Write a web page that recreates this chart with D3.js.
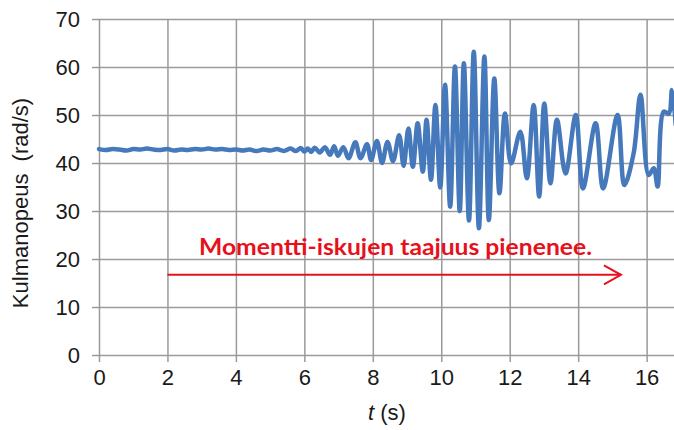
<!DOCTYPE html>
<html>
<head>
<meta charset="utf-8">
<script src="https://cdn.jsdelivr.net/npm/d3@7"></script>
<style>
  html, body { margin: 0; padding: 0; background: #fff; }
  svg { display: block; }
</style>
</head>
<body>
<svg id="chart" width="674" height="430"></svg>
<script>
// Angular velocity of the shaft over time
const timeS = [
  0, 0.2, 0.4, 0.6, 0.8, 1.0, 1.2, 1.4, 1.6, 1.8, 2.0, 2.2, 2.4, 2.6, 2.8, 3.0,
  3.2, 3.4, 3.6, 3.8, 4.0, 4.2, 4.4, 4.6, 4.8, 5.0, 5.2, 5.4, 5.6, 5.75, 5.9, 6.0,
  6.1, 6.2, 6.3, 6.45, 6.6,
  6.75, 6.87, 6.98, 7.14, 7.29, 7.49, 7.64, 7.83, 7.95, 8.12, 8.27, 8.43, 8.59,
  8.77, 8.90, 9.04, 9.17, 9.31, 9.46, 9.57, 9.70, 9.83, 9.97, 10.11, 10.26, 10.40,
  10.54, 10.66, 10.81, 10.95, 11.10, 11.26, 11.39, 11.55, 11.70, 11.86, 12.04,
  12.31, 12.50, 12.70, 12.86, 13.01, 13.19, 13.38, 13.63, 13.93, 14.14, 14.51,
  14.73, 15.15, 15.35, 15.62, 15.82, 16.06, 16.21, 16.32, 16.50, 16.65, 16.74, 16.85
];
const omega = [
  42.9, 42.7, 42.9, 42.8, 42.6, 42.9, 42.8, 43.0, 42.8, 42.7, 42.9, 42.6, 42.8, 42.7, 42.9, 42.8,
  43.0, 42.8, 42.9, 42.7, 42.8, 42.6, 42.8, 42.5, 42.8, 42.6, 42.9, 42.5, 43.0, 42.5, 43.1, 42.4,
  43.0, 42.3, 43.2, 42.2, 43.3,
  41.7, 43.5, 41.5, 43.3, 41.0, 44.3, 41.0, 43.9, 40.6, 44.6, 40.0, 44.4, 40.4,
  45.8, 39.4, 47.2, 39.2, 48.3, 38.2, 49.0, 36.5, 52.1, 34.9, 56.3, 30.9, 60.1,
  30.0, 60.8, 28.0, 63.2, 26.4, 62.2, 28.1, 57.6, 33.7, 50.3, 39.9,
  46.5, 36.8, 52.1, 33.0, 52.4, 35.8, 49.0, 37.8, 50.0, 34.7, 48.3,
  34.7, 50.0, 35.4, 42.0, 54.2, 37.5, 38.9, 35.1, 50.7, 50.3, 55.2, 48.0
];
const xTicks = [0, 2, 4, 6, 8, 10, 12, 14, 16];
const yTicks = [0, 10, 20, 30, 40, 50, 60, 70];
const noteText = "Momentti-iskujen taajuus pienenee.";
const arrowFrom = [2, 16.7];
const arrowTo = [15.25, 16.7];

const svg = d3.select("#chart");
const plotL = 99, plotR = 674, plotT = 19, plotB = 355;
const x = d3.scaleLinear().domain([0, 16.8]).range([plotL, plotR]);
const y = d3.scaleLinear().domain([0, 70]).range([plotB, plotT]);

const gridColor = "#9a9a9a";
const textColor = "#1a1a1a";
const font = "'Liberation Sans', Arial, sans-serif";

// Grid lines with small outward ticks
const xAxis = d3.axisBottom(x).tickValues(xTicks).tickSize(-(plotB - plotT) - 7).tickFormat(d3.format("d"));
const gx = svg.append("g").attr("transform", `translate(0,${plotB + 7})`).call(xAxis);
gx.select(".domain").remove();
gx.selectAll("line").attr("stroke", gridColor).attr("stroke-width", 1.5);
gx.selectAll("text").attr("y", 23).attr("dy", 0)
  .attr("font-family", font).attr("font-size", 22).attr("fill", textColor);

const yAxis = d3.axisLeft(y).tickValues(yTicks).tickSize(-(plotR - plotL) - 7).tickFormat(d3.format("d"));
const gy = svg.append("g").attr("transform", `translate(${plotL - 7},0)`).call(yAxis);
gy.select(".domain").remove();
gy.selectAll("line").attr("stroke", gridColor).attr("stroke-width", 1.5);
gy.selectAll("text").attr("x", -12).attr("dy", "0.36em")
  .attr("font-family", font).attr("font-size", 22).attr("fill", textColor);

// Axis titles
svg.append("text")
  .attr("transform", `translate(28,${(plotT + plotB) / 2 + 16}) rotate(-90)`)
  .attr("text-anchor", "middle")
  .attr("font-family", font).attr("font-size", 22).attr("fill", textColor)
  .attr("xml:space", "preserve")
  .text("Kulmanopeus  (rad/s)");

const xt = svg.append("text")
  .attr("x", 387).attr("y", 420)
  .attr("text-anchor", "middle")
  .attr("font-family", font).attr("font-size", 22).attr("fill", textColor);
xt.append("tspan").attr("font-style", "italic").text("t");
xt.append("tspan").text(" (s)");

// Signal
const pts = timeS.map((t, i) => [t, omega[i]]);
svg.append("clipPath").attr("id", "plotClip")
  .append("rect").attr("x", plotL - 5).attr("y", 0).attr("width", plotR - plotL + 5).attr("height", 430);
svg.append("path")
  .datum(pts)
  .attr("clip-path", "url(#plotClip)")
  .attr("fill", "none")
  .attr("stroke", "#4579bc")
  .attr("stroke-width", 4.5)
  .attr("stroke-linejoin", "round")
  .attr("stroke-linecap", "round")
  .attr("d", d3.line().x(d => x(d[0])).y(d => y(d[1])).curve(d3.curveCatmullRom.alpha(0.5)));

// Annotation: arrow and note
const red = "#e8101a";
svg.append("line")
  .attr("x1", x(arrowFrom[0])).attr("y1", y(arrowFrom[1]))
  .attr("x2", x(arrowTo[0])).attr("y2", y(arrowTo[1]))
  .attr("stroke", red).attr("stroke-width", 2);
const tipX = x(arrowTo[0]), tipY = y(arrowTo[1]);
svg.append("path")
  .attr("d", `M${tipX - 17},${tipY - 9.5} L${tipX},${tipY} L${tipX - 17},${tipY + 9.5}`)
  .attr("fill", "none").attr("stroke", red).attr("stroke-width", 2);

svg.append("text")
  .attr("x", 199).attr("y", 255)
  .attr("font-family", "Lato, 'Liberation Sans', sans-serif")
  .attr("font-weight", "bold").attr("font-size", 23)
  .attr("textLength", 393).attr("lengthAdjust", "spacingAndGlyphs")
  .attr("fill", red)
  .text(noteText);
</script>
</body>
</html>
